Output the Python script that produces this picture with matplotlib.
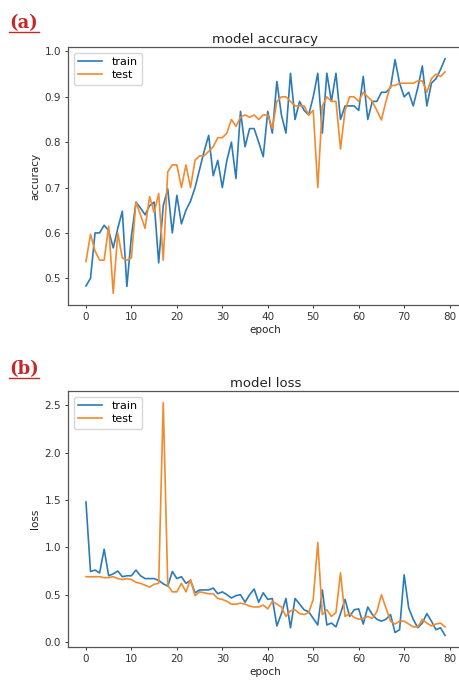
import matplotlib
matplotlib.use("Agg")
from matplotlib import pyplot as plt
from matplotlib.lines import Line2D

epochs = list(range(80))

train_acc = [0.483, 0.50, 0.60, 0.60, 0.617, 0.605, 0.567, 0.61, 0.648, 0.482,
             0.593, 0.668, 0.655, 0.64, 0.66, 0.668, 0.534, 0.66, 0.697, 0.60,
             0.683, 0.62, 0.65, 0.67, 0.70, 0.74, 0.78, 0.815, 0.726, 0.76,
             0.70, 0.76, 0.80, 0.72, 0.868, 0.79, 0.83, 0.83, 0.80, 0.768,
             0.868, 0.82, 0.934, 0.86, 0.82, 0.952, 0.85, 0.89, 0.87, 0.86,
             0.90, 0.952, 0.82, 0.952, 0.89, 0.952, 0.85, 0.88, 0.88, 0.88,
             0.87, 0.945, 0.85, 0.89, 0.89, 0.91, 0.91, 0.92, 0.982, 0.93,
             0.90, 0.91, 0.88, 0.92, 0.968, 0.88, 0.93, 0.94, 0.96, 0.984]

test_acc = [0.537, 0.597, 0.56, 0.54, 0.54, 0.615, 0.467, 0.60, 0.545, 0.54,
            0.545, 0.668, 0.64, 0.61, 0.68, 0.645, 0.687, 0.54, 0.735, 0.75,
            0.75, 0.70, 0.75, 0.70, 0.76, 0.77, 0.77, 0.78, 0.79, 0.81,
            0.81, 0.82, 0.85, 0.835, 0.855, 0.86, 0.855, 0.86, 0.85, 0.86,
            0.86, 0.83, 0.89, 0.90, 0.90, 0.89, 0.88, 0.88, 0.88, 0.86,
            0.87, 0.70, 0.88, 0.90, 0.89, 0.89, 0.785, 0.87, 0.90, 0.90,
            0.89, 0.91, 0.90, 0.89, 0.87, 0.849, 0.89, 0.925, 0.925, 0.93,
            0.93, 0.93, 0.93, 0.935, 0.935, 0.91, 0.94, 0.95, 0.945, 0.955]

train_loss = [1.48, 0.745, 0.76, 0.73, 0.98, 0.70, 0.72, 0.75, 0.69, 0.70,
              0.70, 0.76, 0.70, 0.67, 0.67, 0.67, 0.65, 0.615, 0.59, 0.745,
              0.67, 0.69, 0.62, 0.65, 0.52, 0.55, 0.55, 0.55, 0.57, 0.51,
              0.53, 0.50, 0.465, 0.49, 0.50, 0.42, 0.50, 0.56, 0.42, 0.52,
              0.45, 0.46, 0.17, 0.30, 0.46, 0.15, 0.46, 0.40, 0.34, 0.32,
              0.25, 0.18, 0.55, 0.18, 0.20, 0.16, 0.30, 0.45, 0.27, 0.34,
              0.35, 0.19, 0.37, 0.29, 0.24, 0.22, 0.24, 0.29, 0.10, 0.13,
              0.71, 0.36, 0.24, 0.15, 0.20, 0.30, 0.22, 0.13, 0.15, 0.07]

test_loss = [0.69, 0.69, 0.69, 0.69, 0.68, 0.68, 0.69, 0.67, 0.66, 0.67,
             0.66, 0.63, 0.62, 0.60, 0.58, 0.61, 0.62, 2.53, 0.60, 0.53,
             0.53, 0.62, 0.53, 0.66, 0.49, 0.53, 0.52, 0.51, 0.51, 0.46,
             0.45, 0.43, 0.40, 0.40, 0.41, 0.40, 0.38, 0.37, 0.37, 0.39,
             0.35, 0.43, 0.40, 0.37, 0.27, 0.33, 0.34, 0.30, 0.29, 0.31,
             0.45, 1.05, 0.29, 0.34, 0.27, 0.31, 0.73, 0.27, 0.30, 0.26,
             0.24, 0.25, 0.27, 0.25, 0.32, 0.50, 0.36, 0.22, 0.19, 0.22,
             0.22, 0.19, 0.16, 0.16, 0.24, 0.20, 0.17, 0.19, 0.20, 0.16]

blue = '#2b7bba'
orange = '#f28a2e'
red = '#c62828'

fig = plt.figure(figsize=(4.59, 6.85), dpi=100)

W, H = 459.0, 685.0
def box(l, t, r, b):
  return [l / W, 1 - b / H, (r - l) / W, (b - t) / H]

def style(ax, title, ylab):
  ax.set_title(title, fontsize=9.5, pad=3, color='#222222')
  ax.set_xlabel('epoch', fontsize=7.5, labelpad=2, color='#222222')
  ax.set_ylabel(ylab, fontsize=7.5, labelpad=3, color='#222222')
  ax.tick_params(labelsize=7.5, length=2.5, width=0.7, pad=2.5, colors='#333333')
  for s in ax.spines.values():
    s.set_color('#555555')
    s.set_linewidth(0.9)
  ax.legend(loc='upper left', fontsize=8, handlelength=2.2, borderpad=0.4,
            labelspacing=0.3, handletextpad=0.8)

ax1 = fig.add_axes(box(68, 47, 463, 305))
ax1.plot(epochs, train_acc, color=blue, lw=1.2, label='train')
ax1.plot(epochs, test_acc, color=orange, lw=1.2, label='test')
ax1.set_xticks([0, 10, 20, 30, 40, 50, 60, 70, 80])
ax1.set_yticks([0.5, 0.6, 0.7, 0.8, 0.9, 1.0])
style(ax1, 'model accuracy', 'accuracy')

ax2 = fig.add_axes(box(68, 391, 463, 647))
ax2.plot(epochs, train_loss, color=blue, lw=1.2, label='train')
ax2.plot(epochs, test_loss, color=orange, lw=1.2, label='test')
ax2.set_xticks([0, 10, 20, 30, 40, 50, 60, 70, 80])
ax2.set_yticks([0.0, 0.5, 1.0, 1.5, 2.0, 2.5])
style(ax2, 'model loss', 'loss')

# panel letters, red and underlined
for lab, yb, yu in [('(a)', 28, 31.5), ('(b)', 374, 377.5)]:
  fig.text(9 / W, 1 - yb / H, lab, color=red, fontsize=13, fontweight='bold',
           family='DejaVu Serif', va='baseline', ha='left')
  fig.add_artist(Line2D([9 / W, 39 / W], [1 - yu / H, 1 - yu / H],
                        color=red, lw=1.0))

plt.savefig('out.png', dpi=100)
